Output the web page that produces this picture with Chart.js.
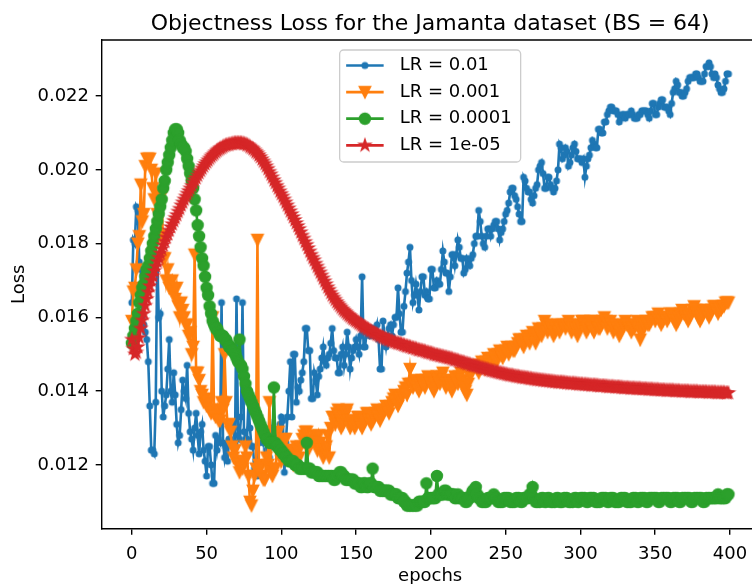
<!DOCTYPE html>
<html><head><meta charset="utf-8">
<script src="https://cdn.jsdelivr.net/npm/chart.js@4.4.1/dist/chart.umd.min.js"></script>
<style>
html,body{margin:0;padding:0;overflow:hidden;background:#fff;width:752px;height:584px}
#wrap{position:absolute;left:0;top:0;width:790px;height:584px}
</style>
</head><body><div id="wrap"><canvas id="c" width="790" height="584"></canvas></div>
<script>
// one value per epoch, epochs 0..399
const epochs = Array.from({length: 400}, (_, i) => i);

const lr_0_01 = [
0.0164,0.0181,0.0180,0.0190,0.0189,0.0175,0.0173,0.0160,0.0158,0.0156,0.0154,0.0148,0.0136,0.0124,0.0124,0.0123,0.0137,0.0177,0.0160,0.0161,
0.0140,0.0133,0.0136,0.0139,0.0146,0.0154,0.0140,0.0137,0.0145,0.0139,0.0131,0.0126,0.0128,0.0135,0.0143,0.0140,0.0138,0.0147,0.0134,0.0129,
0.0127,0.0124,0.0130,0.0134,0.0128,0.0123,0.0129,0.0131,0.0124,0.0121,0.0117,0.0125,0.0125,0.0120,0.0115,0.0115,0.0128,0.0124,0.0127,0.0126,
0.0164,0.0126,0.0122,0.0125,0.0121,0.0127,0.0127,0.0131,0.0130,0.0126,0.0165,0.0128,0.0127,0.0133,0.0164,0.0129,0.0127,0.0127,0.0137,0.0130,
0.0125,0.0125,0.0119,0.0121,0.0117,0.0126,0.0131,0.0129,0.0126,0.0128,0.0124,0.0126,0.0122,0.0125,0.0130,0.0128,0.0127,0.0129,0.0129,0.0131,
0.0133,0.0132,0.0118,0.0126,0.0133,0.0140,0.0148,0.0133,0.0150,0.0150,0.0137,0.0141,0.0140,0.0143,0.0145,0.0148,0.0157,0.0157,0.0151,0.0151,
0.0138,0.0138,0.0145,0.0143,0.0139,0.0144,0.0146,0.0149,0.0152,0.0148,0.0147,0.0149,0.0150,0.0153,0.0157,0.0151,0.0149,0.0149,0.0145,0.0145,
0.0150,0.0152,0.0147,0.0150,0.0156,0.0152,0.0146,0.0149,0.0151,0.0152,0.0154,0.0152,0.0150,0.0155,0.0171,0.0152,0.0152,0.0156,0.0156,0.0155,
0.0157,0.0157,0.0155,0.0156,0.0158,0.0154,0.0146,0.0146,0.0159,0.0155,0.0152,0.0155,0.0157,0.0158,0.0155,0.0158,0.0160,0.0160,0.0168,0.0161,
0.0156,0.0156,0.0163,0.0167,0.0172,0.0175,0.0179,0.0170,0.0164,0.0166,0.0169,0.0166,0.0162,0.0167,0.0171,0.0171,0.0166,0.0167,0.0165,0.0165,
0.0173,0.0173,0.0168,0.0168,0.0170,0.0169,0.0169,0.0173,0.0178,0.0175,0.0172,0.0172,0.0167,0.0171,0.0177,0.0177,0.0174,0.0177,0.0181,0.0179,
0.0176,0.0176,0.0172,0.0173,0.0176,0.0175,0.0174,0.0176,0.0177,0.0180,0.0182,0.0182,0.0189,0.0186,0.0182,0.0180,0.0179,0.0182,0.0184,0.0184,
0.0182,0.0184,0.0185,0.0186,0.0186,0.0184,0.0181,0.0183,0.0184,0.0186,0.0188,0.0189,0.0191,0.0194,0.0195,0.0195,0.0193,0.0192,0.0190,0.0188,
0.0186,0.0186,0.0198,0.0197,0.0195,0.0194,0.0194,0.0192,0.0191,0.0193,0.0195,0.0196,0.0200,0.0201,0.0202,0.0199,0.0195,0.0195,0.0198,0.0198,
0.0196,0.0195,0.0194,0.0195,0.0197,0.0200,0.0207,0.0206,0.0203,0.0204,0.0206,0.0205,0.0201,0.0202,0.0204,0.0206,0.0207,0.0205,0.0203,0.0203,
0.0203,0.0202,0.0203,0.0198,0.0201,0.0203,0.0204,0.0206,0.0208,0.0207,0.0206,0.0206,0.0211,0.0211,0.0210,0.0210,0.0213,0.0213,0.0215,0.0216,
0.0217,0.0217,0.0216,0.0216,0.0216,0.0215,0.0213,0.0214,0.0215,0.0215,0.0214,0.0215,0.0215,0.0215,0.0216,0.0215,0.0214,0.0214,0.0214,0.0215,
0.0215,0.0216,0.0216,0.0216,0.0216,0.0215,0.0214,0.0216,0.0218,0.0218,0.0215,0.0215,0.0217,0.0218,0.0219,0.0219,0.0217,0.0217,0.0217,0.0216,
0.0215,0.0218,0.0221,0.0222,0.0224,0.0223,0.0221,0.0221,0.0220,0.0220,0.0221,0.0222,0.0224,0.0225,0.0225,0.0225,0.0225,0.0226,0.0226,0.0225,
0.0224,0.0224,0.0224,0.0226,0.0228,0.0228,0.0229,0.0228,0.0226,0.0225,0.0226,0.0225,0.0223,0.0222,0.0221,0.0221,0.0222,0.0224,0.0226,0.0226
];

const lr_0_001 = [
0.0159,0.0167,0.0168,0.0173,0.0180,0.0182,0.0196,0.0186,0.0188,0.0201,0.0203,0.0203,0.0203,0.0200,0.0195,0.0192,0.0199,0.0188,0.0182,0.0182,
0.0193,0.0176,0.0176,0.0170,0.0173,0.0168,0.0168,0.0170,0.0167,0.0165,0.0168,0.0163,0.0160,0.0164,0.0162,0.0160,0.0158,0.0158,0.0155,0.0156,
0.0150,0.0152,0.0177,0.0145,0.0145,0.0143,0.0140,0.0139,0.0137,0.0138,0.0136,0.0137,0.0135,0.0134,0.0160,0.0134,0.0133,0.0135,0.0132,0.0132,
0.0137,0.0135,0.0150,0.0137,0.0131,0.0131,0.0129,0.0125,0.0122,0.0124,0.0121,0.0120,0.0118,0.0120,0.0119,0.0121,0.0125,0.0122,0.0117,0.0110,
0.0109,0.0113,0.0117,0.0119,0.0181,0.0120,0.0119,0.0117,0.0116,0.0116,0.0122,0.0120,0.0137,0.0118,0.0117,0.0119,0.0119,0.0124,0.0129,0.0126,
0.0121,0.0123,0.0127,0.0127,0.0122,0.0124,0.0124,0.0122,0.0120,0.0123,0.0125,0.0124,0.0122,0.0125,0.0127,0.0128,0.0129,0.0129,0.0124,0.0126,
0.0126,0.0127,0.0128,0.0126,0.0124,0.0128,0.0126,0.0124,0.0122,0.0124,0.0125,0.0128,0.0122,0.0130,0.0133,0.0133,0.0131,0.0134,0.0135,0.0133,
0.0130,0.0131,0.0133,0.0134,0.0135,0.0132,0.0130,0.0132,0.0132,0.0130,0.0131,0.0133,0.0133,0.0131,0.0130,0.0132,0.0132,0.0134,0.0134,0.0132,
0.0131,0.0132,0.0133,0.0134,0.0135,0.0133,0.0132,0.0134,0.0134,0.0135,0.0136,0.0135,0.0134,0.0136,0.0137,0.0138,0.0139,0.0137,0.0136,0.0138,
0.0138,0.0139,0.0140,0.0141,0.0139,0.0142,0.0146,0.0142,0.0141,0.0142,0.0143,0.0141,0.0140,0.0142,0.0143,0.0142,0.0141,0.0143,0.0144,0.0143,
0.0142,0.0141,0.0140,0.0142,0.0144,0.0143,0.0142,0.0144,0.0145,0.0143,0.0141,0.0142,0.0143,0.0142,0.0140,0.0142,0.0144,0.0143,0.0142,0.0144,
0.0145,0.0143,0.0141,0.0140,0.0139,0.0142,0.0144,0.0145,0.0146,0.0147,0.0147,0.0146,0.0145,0.0147,0.0148,0.0147,0.0146,0.0148,0.0149,0.0148,
0.0147,0.0149,0.0150,0.0149,0.0148,0.0150,0.0151,0.0150,0.0149,0.0150,0.0151,0.0152,0.0150,0.0151,0.0152,0.0151,0.0151,0.0152,0.0153,0.0154,
0.0154,0.0153,0.0152,0.0154,0.0155,0.0154,0.0153,0.0155,0.0156,0.0155,0.0153,0.0155,0.0157,0.0156,0.0155,0.0157,0.0159,0.0158,0.0156,0.0157,
0.0158,0.0157,0.0155,0.0156,0.0157,0.0158,0.0156,0.0157,0.0158,0.0158,0.0157,0.0158,0.0159,0.0158,0.0156,0.0157,0.0158,0.0157,0.0155,0.0157,
0.0158,0.0159,0.0159,0.0158,0.0156,0.0157,0.0158,0.0159,0.0157,0.0156,0.0159,0.0158,0.0157,0.0157,0.0158,0.0159,0.0160,0.0159,0.0157,0.0158,
0.0159,0.0158,0.0156,0.0157,0.0158,0.0157,0.0155,0.0156,0.0157,0.0158,0.0159,0.0158,0.0158,0.0157,0.0156,0.0157,0.0157,0.0158,0.0159,0.0157,
0.0154,0.0156,0.0157,0.0158,0.0159,0.0158,0.0158,0.0159,0.0160,0.0160,0.0159,0.0160,0.0161,0.0159,0.0158,0.0159,0.0160,0.0160,0.0159,0.0160,
0.0161,0.0161,0.0160,0.0159,0.0158,0.0159,0.0160,0.0161,0.0162,0.0161,0.0161,0.0160,0.0159,0.0160,0.0161,0.0162,0.0163,0.0162,0.0161,0.0160,
0.0159,0.0160,0.0161,0.0162,0.0162,0.0161,0.0160,0.0161,0.0162,0.0163,0.0163,0.0162,0.0161,0.0162,0.0162,0.0163,0.0163,0.0164,0.0164,0.0164
];

const lr_0_0001 = [
0.0153,0.0155,0.0157,0.0159,0.0161,0.0164,0.0166,0.0168,0.0169,0.0171,0.0173,0.0174,0.0176,0.0178,0.0180,0.0182,0.0184,0.0186,0.0188,0.0190,
0.0192,0.0195,0.0197,0.0200,0.0202,0.0204,0.0206,0.0208,0.0210,0.0211,0.0211,0.0210,0.0208,0.0207,0.0206,0.0206,0.0205,0.0203,0.0201,0.0199,
0.0197,0.0195,0.0192,0.0189,0.0185,0.0182,0.0179,0.0176,0.0174,0.0171,0.0168,0.0166,0.0163,0.0161,0.0159,0.0158,0.0157,0.0157,0.0156,0.0155,
0.0155,0.0155,0.0154,0.0154,0.0153,0.0152,0.0152,0.0151,0.0151,0.0150,0.0149,0.0148,0.0154,0.0147,0.0146,0.0144,0.0142,0.0140,0.0139,0.0138,
0.0137,0.0136,0.0135,0.0134,0.0133,0.0132,0.0131,0.0130,0.0129,0.0128,0.0127,0.0127,0.0126,0.0126,0.0126,0.0141,0.0126,0.0125,0.0125,0.0124,
0.0124,0.0123,0.0123,0.0122,0.0122,0.0121,0.0121,0.0121,0.0121,0.0120,0.0120,0.0120,0.0119,0.0119,0.0119,0.0119,0.0119,0.0126,0.0119,0.0119,
0.0118,0.0118,0.0118,0.0118,0.0118,0.0117,0.0117,0.0117,0.0117,0.0117,0.0117,0.0117,0.0117,0.0117,0.0117,0.0116,0.0116,0.0117,0.0117,0.0118,
0.0118,0.0117,0.0117,0.0116,0.0116,0.0116,0.0116,0.0116,0.0116,0.0115,0.0115,0.0115,0.0115,0.0114,0.0114,0.0115,0.0115,0.0114,0.0114,0.0115,
0.0115,0.0119,0.0114,0.0114,0.0114,0.0114,0.0113,0.0113,0.0113,0.0113,0.0113,0.0113,0.0113,0.0112,0.0112,0.0112,0.0112,0.0112,0.0111,0.0111,
0.0111,0.0111,0.0110,0.0110,0.0109,0.0109,0.0109,0.0109,0.0109,0.0109,0.0109,0.0109,0.0110,0.0110,0.0110,0.0110,0.0110,0.0115,0.0111,0.0111,
0.0111,0.0111,0.0111,0.0111,0.0117,0.0112,0.0112,0.0112,0.0112,0.0113,0.0113,0.0112,0.0112,0.0112,0.0112,0.0112,0.0111,0.0111,0.0112,0.0111,
0.0111,0.0111,0.0111,0.0110,0.0110,0.0111,0.0111,0.0112,0.0113,0.0113,0.0114,0.0112,0.0111,0.0111,0.0110,0.0110,0.0110,0.0110,0.0111,0.0111,
0.0111,0.0111,0.0112,0.0111,0.0111,0.0110,0.0110,0.0110,0.0110,0.0111,0.0111,0.0111,0.0111,0.0110,0.0110,0.0110,0.0110,0.0111,0.0111,0.0111,
0.0110,0.0110,0.0111,0.0111,0.0111,0.0111,0.0112,0.0112,0.0114,0.0111,0.0110,0.0110,0.0110,0.0110,0.0111,0.0111,0.0110,0.0110,0.0111,0.0111,
0.0110,0.0110,0.0110,0.0110,0.0111,0.0111,0.0110,0.0110,0.0110,0.0111,0.0111,0.0111,0.0110,0.0110,0.0110,0.0110,0.0111,0.0111,0.0110,0.0110,
0.0111,0.0111,0.0111,0.0111,0.0110,0.0110,0.0111,0.0111,0.0111,0.0111,0.0110,0.0110,0.0110,0.0110,0.0111,0.0111,0.0111,0.0111,0.0110,0.0110,
0.0111,0.0111,0.0111,0.0110,0.0110,0.0110,0.0110,0.0111,0.0111,0.0111,0.0111,0.0110,0.0110,0.0110,0.0110,0.0111,0.0111,0.0111,0.0110,0.0110,
0.0111,0.0111,0.0111,0.0111,0.0110,0.0110,0.0111,0.0111,0.0111,0.0111,0.0111,0.0111,0.0110,0.0110,0.0111,0.0111,0.0111,0.0111,0.0111,0.0111,
0.0110,0.0110,0.0111,0.0111,0.0111,0.0111,0.0110,0.0110,0.0111,0.0111,0.0111,0.0111,0.0111,0.0111,0.0110,0.0110,0.0111,0.0111,0.0111,0.0111,
0.0111,0.0111,0.0110,0.0110,0.0111,0.0111,0.0111,0.0111,0.0111,0.0111,0.0111,0.0111,0.0112,0.0111,0.0111,0.0111,0.0111,0.0111,0.0112,0.0112
];

const lr_1e_05 = [
0.01540,0.01515,0.01500,0.01505,0.01520,0.01545,0.01570,0.01592,0.01610,0.01632,0.01650,0.01668,0.01685,0.01700,0.01712,0.01726,0.01738,0.01751,0.01762,0.01774,
0.01785,0.01796,0.01806,0.01817,0.01826,0.01836,0.01845,0.01853,0.01862,0.01870,0.01878,0.01887,0.01895,0.01904,0.01912,0.01920,0.01928,0.01936,0.01943,0.01950,
0.01957,0.01965,0.01972,0.01978,0.01985,0.01992,0.01998,0.02004,0.02010,0.02016,0.02021,0.02026,0.02031,0.02036,0.02040,0.02044,0.02048,0.02052,0.02055,0.02058,
0.02060,0.02063,0.02065,0.02067,0.02068,0.02069,0.02070,0.02071,0.02072,0.02073,0.02073,0.02073,0.02073,0.02073,0.02072,0.02071,0.02070,0.02068,0.02066,0.02063,
0.02060,0.02057,0.02053,0.02049,0.02045,0.02040,0.02035,0.02029,0.02023,0.02017,0.02010,0.02003,0.01995,0.01988,0.01980,0.01972,0.01965,0.01957,0.01950,0.01942,
0.01935,0.01928,0.01920,0.01912,0.01904,0.01896,0.01888,0.01880,0.01872,0.01864,0.01856,0.01848,0.01840,0.01831,0.01822,0.01814,0.01805,0.01797,0.01788,0.01779,
0.01770,0.01762,0.01755,0.01746,0.01738,0.01730,0.01722,0.01714,0.01706,0.01698,0.01690,0.01682,0.01675,0.01667,0.01660,0.01654,0.01648,0.01642,0.01637,0.01632,
0.01627,0.01622,0.01618,0.01614,0.01610,0.01606,0.01603,0.01599,0.01596,0.01593,0.01590,0.01587,0.01584,0.01581,0.01578,0.01575,0.01573,0.01570,0.01568,0.01565,
0.01563,0.01560,0.01558,0.01556,0.01554,0.01552,0.01550,0.01548,0.01546,0.01544,0.01542,0.01540,0.01539,0.01537,0.01536,0.01534,0.01533,0.01531,0.01530,0.01529,
0.01528,0.01526,0.01525,0.01523,0.01522,0.01521,0.01520,0.01518,0.01517,0.01516,0.01515,0.01513,0.01512,0.01511,0.01510,0.01509,0.01508,0.01506,0.01505,0.01504,
0.01503,0.01502,0.01500,0.01499,0.01498,0.01497,0.01496,0.01495,0.01494,0.01493,0.01492,0.01491,0.01490,0.01489,0.01488,0.01486,0.01485,0.01484,0.01483,0.01481,
0.01480,0.01479,0.01478,0.01476,0.01475,0.01474,0.01473,0.01471,0.01470,0.01469,0.01468,0.01467,0.01466,0.01464,0.01463,0.01462,0.01461,0.01460,0.01459,0.01457,
0.01456,0.01455,0.01454,0.01453,0.01452,0.01451,0.01450,0.01449,0.01448,0.01447,0.01446,0.01445,0.01444,0.01443,0.01443,0.01442,0.01441,0.01440,0.01440,0.01439,
0.01438,0.01437,0.01437,0.01436,0.01436,0.01435,0.01434,0.01434,0.01433,0.01432,0.01432,0.01431,0.01431,0.01430,0.01430,0.01429,0.01429,0.01428,0.01428,0.01427,
0.01427,0.01426,0.01426,0.01425,0.01425,0.01424,0.01424,0.01424,0.01424,0.01423,0.01423,0.01422,0.01422,0.01421,0.01421,0.01421,0.01421,0.01420,0.01420,0.01419,
0.01419,0.01419,0.01418,0.01418,0.01418,0.01417,0.01417,0.01416,0.01416,0.01416,0.01416,0.01415,0.01415,0.01414,0.01414,0.01414,0.01414,0.01413,0.01413,0.01412,
0.01412,0.01412,0.01412,0.01411,0.01411,0.01411,0.01411,0.01410,0.01410,0.01409,0.01409,0.01409,0.01409,0.01408,0.01408,0.01408,0.01408,0.01407,0.01407,0.01407,
0.01407,0.01406,0.01406,0.01406,0.01406,0.01405,0.01405,0.01405,0.01405,0.01404,0.01404,0.01404,0.01404,0.01403,0.01403,0.01403,0.01403,0.01402,0.01402,0.01402,
0.01402,0.01402,0.01402,0.01401,0.01401,0.01401,0.01401,0.01400,0.01400,0.01400,0.01400,0.01400,0.01400,0.01399,0.01399,0.01399,0.01399,0.01399,0.01399,0.01398,
0.01398,0.01398,0.01398,0.01398,0.01398,0.01397,0.01397,0.01397,0.01397,0.01397,0.01397,0.01396,0.01396,0.01396,0.01396,0.01396,0.01396,0.01395,0.01395,0.01395
];

const seriesNames = ['LR = 0.01', 'LR = 0.001', 'LR = 0.0001', 'LR = 1e-05'];
const seriesColors = ['#1f77b4', '#ff7f0e', '#2ca02c', '#d62728'];
const xTickValues = [0, 50, 100, 150, 200, 250, 300, 350, 400];
const yTickValues = [0.012, 0.014, 0.016, 0.018, 0.020, 0.022];
const titleText = 'Objectness Loss for the Jamanta dataset (BS = 64)';
const xLabel = 'epochs';
const yLabel = 'Loss';

const FONT = 'DejaVu Sans';
const FS = 18;

function makeMarker(kind, color) {
  const s = 18, c = document.createElement('canvas');
  c.width = s; c.height = s;
  const g = c.getContext('2d');
  g.fillStyle = color; g.strokeStyle = color; g.lineWidth = 1.8; g.lineJoin = 'miter';
  const m = s / 2;
  g.beginPath();
  if (kind === 'dot') g.arc(m, m, 2.6, 0, Math.PI * 2);
  else if (kind === 'circle') g.arc(m, m, 5.3, 0, Math.PI * 2);
  else if (kind === 'tri') { g.moveTo(m, m + 5.4); g.lineTo(m - 5.4, m - 5.4); g.lineTo(m + 5.4, m - 5.4); g.closePath(); }
  else if (kind === 'star') {
    for (let k = 0; k < 10; k++) {
      const r = k % 2 === 0 ? 5.4 : 5.4 * 0.381966;
      const a = -Math.PI / 2 + k * Math.PI / 5;
      const px = m + r * Math.cos(a), py = m + r * Math.sin(a);
      if (k) g.lineTo(px, py); else g.moveTo(px, py);
    }
    g.closePath();
  }
  g.fill(); g.stroke();
  return c;
}
const markers = [makeMarker('dot', seriesColors[0]), makeMarker('tri', seriesColors[1]),
                 makeMarker('circle', seriesColors[2]), makeMarker('star', seriesColors[3])];
const allSeries = [lr_0_01, lr_0_001, lr_0_0001, lr_1e_05];

const frameAndLegend = {
  id: 'frameAndLegend',
  afterDraw(chart) {
    const {ctx, chartArea: a} = chart;
    ctx.save();
    ctx.strokeStyle = '#000'; ctx.lineWidth = 1.4;
    ctx.beginPath();
    ctx.moveTo(a.left, a.top); ctx.lineTo(a.right, a.top); ctx.lineTo(a.right, a.bottom);
    ctx.stroke();
    // legend (upper center)
    const cx = (a.left + a.right) / 2;
    const bw = 181, bh = 112;
    const bx = cx - bw / 2, by = a.top + 10, r = 4;
    ctx.beginPath();
    ctx.moveTo(bx + r, by); ctx.lineTo(bx + bw - r, by); ctx.arcTo(bx + bw, by, bx + bw, by + r, r);
    ctx.lineTo(bx + bw, by + bh - r); ctx.arcTo(bx + bw, by + bh, bx + bw - r, by + bh, r);
    ctx.lineTo(bx + r, by + bh); ctx.arcTo(bx, by + bh, bx, by + bh - r, r);
    ctx.lineTo(bx, by + r); ctx.arcTo(bx, by, bx + r, by, r); ctx.closePath();
    ctx.fillStyle = 'rgba(255,255,255,0.8)'; ctx.fill();
    ctx.strokeStyle = '#cccccc'; ctx.lineWidth = 1.3; ctx.stroke();
    ctx.font = FS + 'px "' + FONT + '"';
    ctx.textBaseline = 'middle'; ctx.textAlign = 'left';
    for (let i = 0; i < seriesNames.length; i++) {
      const yy = by + 15.5 + i * 26.6;
      const x0 = bx + 6.5, x1 = bx + 44;
      ctx.strokeStyle = seriesColors[i]; ctx.lineWidth = 2.7;
      ctx.beginPath(); ctx.moveTo(x0, yy); ctx.lineTo(x1, yy); ctx.stroke();
      const mk = markers[i];
      ctx.drawImage(mk, (x0 + x1) / 2 - mk.width / 2, yy - mk.height / 2);
      ctx.fillStyle = '#000';
      ctx.fillText(seriesNames[i], bx + 60, yy);
    }
    ctx.restore();
  }
};

const tickFont = {family: FONT, size: FS};
new Chart(document.getElementById('c'), {
  type: 'line',
  data: {
    datasets: allSeries.map((vals, i) => ({
      label: seriesNames[i],
      data: epochs.map((e, j) => ({x: e, y: vals[j]})),
      borderColor: seriesColors[i],
      backgroundColor: seriesColors[i],
      borderWidth: 2.6,
      pointStyle: markers[i],
      pointRadius: 5,
      pointHoverRadius: 5,
      tension: 0,
      fill: false,
      order: 3 - i
    }))
  },
  options: {
    responsive: false,
    animation: false,
    events: [],
    layout: {padding: {left: 0, right: 31.7, top: 0, bottom: 0}},
    plugins: {
      legend: {display: false},
      tooltip: {enabled: false},
      title: {
        display: true, text: titleText, color: '#000', fullSize: false,
        font: {family: FONT, size: 22, weight: 'normal', lineHeight: 1.2},
        padding: {top: 10.8, bottom: 2.8}
      }
    },
    scales: {
      x: {
        type: 'linear', min: -19.95, max: 418.95, z: 1,
        afterBuildTicks: s => { s.ticks = xTickValues.map(v => ({value: v})); },
        afterFit: s => { s.height = 55.5; },
        ticks: {color: '#000', font: tickFont, padding: 9, maxRotation: 0, autoSkip: false, callback: v => String(v)},
        grid: {display: true, drawOnChartArea: false, drawTicks: true, tickLength: 6.3, color: '#000', lineWidth: 1.4},
        border: {display: true, color: '#000', width: 1.4},
        title: {display: true, text: xLabel, color: '#000', font: {family: FONT, size: FS, lineHeight: 1.2}, padding: {top: 0, bottom: -3}}
      },
      y: {
        type: 'linear', min: 0.010276, max: 0.02352, z: 1,
        afterBuildTicks: s => { s.ticks = yTickValues.map(v => ({value: v})); },
        afterFit: s => { s.width = 102; },
        ticks: {color: '#000', font: tickFont, padding: 6.7, autoSkip: false, callback: v => Number(v).toFixed(3)},
        grid: {display: true, drawOnChartArea: false, drawTicks: true, tickLength: 6.3, color: '#000', lineWidth: 1.4},
        border: {display: true, color: '#000', width: 1.4},
        title: {display: true, text: yLabel, color: '#000', font: {family: FONT, size: FS, lineHeight: 1.2}, padding: {top: 9, bottom: 0}}
      }
    }
  },
  plugins: [frameAndLegend]
});
</script>
</body></html>
